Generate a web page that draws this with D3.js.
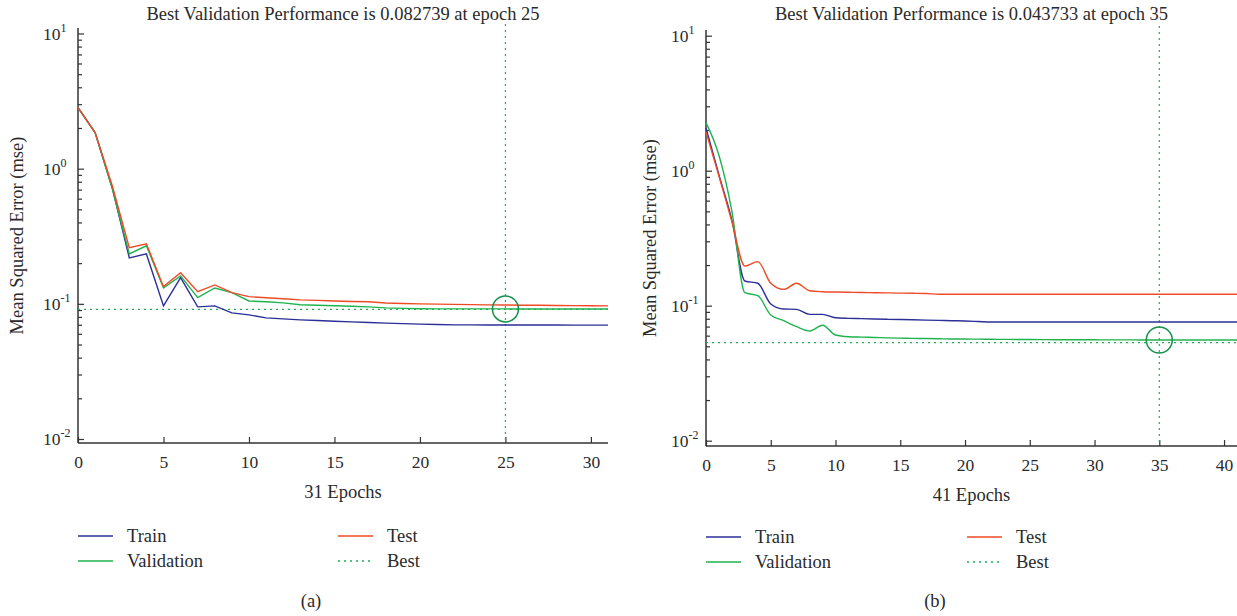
<!DOCTYPE html>
<html>
<head>
<meta charset="utf-8">
<script src="https://cdn.jsdelivr.net/npm/d3@7/dist/d3.min.js"></script>
<style>
  body { margin: 0; background: #fff; }
  svg text { font-family: "Liberation Serif", "DejaVu Serif", serif; fill: #2a2a2a; }
</style>
</head>
<body>
<div id="chart"></div>
<script>
// ---- data ----
// panel (a): 31 epochs
const epochsA = d3.range(0, 32);
const trainA = [2.83, 1.85, 0.72, 0.219, 0.234, 0.0966, 0.156, 0.095, 0.0966, 0.0858, 0.0829, 0.0787,
  0.0774, 0.0761, 0.0752, 0.0744, 0.0736, 0.0728, 0.0720, 0.0714, 0.0708, 0.0703, 0.0699, 0.0699,
  0.0698, 0.0698, 0.0697, 0.0697, 0.0697, 0.0696, 0.0696, 0.0696];
const valA = [2.83, 1.85, 0.72, 0.234, 0.269, 0.131, 0.161, 0.111, 0.131, 0.121, 0.105, 0.1035,
  0.1017, 0.0984, 0.0976, 0.0967, 0.0960, 0.0950, 0.0934, 0.0926, 0.0920, 0.0918, 0.0918, 0.0917,
  0.0917, 0.0917, 0.0916, 0.0916, 0.0916, 0.0916, 0.0916, 0.0915];
const testA = [2.83, 1.85, 0.75, 0.26, 0.278, 0.134, 0.170, 0.123, 0.138, 0.121, 0.113, 0.111,
  0.109, 0.107, 0.106, 0.105, 0.104, 0.1035, 0.1015, 0.1005, 0.1000, 0.0995, 0.0990, 0.0986,
  0.0982, 0.0980, 0.0977, 0.0975, 0.0972, 0.0970, 0.0968, 0.0966];
const bestEpochA = 25;
const bestLineA = 0.091;

// panel (b): 41 epochs
const epochsB = d3.range(0, 42);
const trainB = [2.07, 0.929, 0.431, 0.1524, 0.1466, 0.103, 0.0945, 0.094, 0.0863, 0.0863, 0.0815, 0.0806,
  0.0802, 0.0798, 0.0794, 0.0790, 0.0786, 0.0782, 0.0778, 0.0774, 0.0770, 0.0764, 0.0757, 0.0757,
  0.0757, 0.0757, 0.0757, 0.0757, 0.0757, 0.0757, 0.0757, 0.0757, 0.0757, 0.0757, 0.0757, 0.0757,
  0.0757, 0.0757, 0.0757, 0.0757, 0.0757, 0.0757];
const valB = [2.27, 1.30, 0.50, 0.1248, 0.1186, 0.0853, 0.0774, 0.0699, 0.065, 0.0716, 0.0607, 0.0589,
  0.0585, 0.0582, 0.0578, 0.0575, 0.0573, 0.0571, 0.0569, 0.0567, 0.0566, 0.0565, 0.0564, 0.0563,
  0.0562, 0.0562, 0.0561, 0.0560, 0.0560, 0.0559, 0.0559, 0.0558, 0.0558, 0.0558, 0.0557, 0.0557,
  0.0557, 0.0557, 0.0557, 0.0557, 0.0557, 0.0557];
const testB = [1.94, 0.914, 0.419, 0.197, 0.212, 0.1466, 0.132, 0.1466, 0.129, 0.127, 0.1263, 0.1257,
  0.1252, 0.1248, 0.1244, 0.1240, 0.1236, 0.1230, 0.1215, 0.1215, 0.1215, 0.1215, 0.1215, 0.1215,
  0.1215, 0.1215, 0.1215, 0.1215, 0.1215, 0.1215, 0.1215, 0.1215, 0.1215, 0.1215, 0.1215, 0.1215,
  0.1215, 0.1215, 0.1215, 0.1215, 0.1215, 0.1215];
const bestEpochB = 35;
const bestLineB = 0.0532;

const yTickValues = [0.01, 0.1, 1, 10];
const yTickExps = ["-2", "-1", "0", "1"];
const xTicksA = [0, 5, 10, 15, 20, 25, 30];
const xTicksB = [0, 5, 10, 15, 20, 25, 30, 35, 40];
const legendNames = ["Train", "Validation", "Test", "Best"];

const colors = { train: "#2b2f96", val: "#1fb34f", test: "#f04a25", best: "#1cb05a", circle: "#17924c" };

const width = 1237, height = 616;
const svg = d3.select("#chart").append("svg")
    .attr("width", width)
    .attr("height", height);

function drawPanel(p) {
    const g = svg.append("g");
    const x = d3.scaleLinear().domain(p.xDomain).range([p.left, p.right]);
    const y = d3.scaleLog().domain([0.01, 10]).range([p.y0, p.y1]);

    // minor + major y ticks (inward)
    const minor = [];
    [0.01, 0.1, 1].forEach(d => { for (let k = 2; k <= 9; k++) minor.push(d * k); });
    g.append("g")
        .attr("transform", "translate(" + p.left + ",0)")
        .call(d3.axisLeft(y).tickValues(minor).tickSizeInner(-4).tickSizeOuter(0).tickFormat(""))
        .call(a => a.select(".domain").remove())
        .call(a => a.selectAll("line").attr("stroke", "#333").attr("stroke-width", 1.2));
    g.append("g")
        .attr("transform", "translate(" + p.left + ",0)")
        .call(d3.axisLeft(y).tickValues(yTickValues).tickSizeInner(-6).tickSizeOuter(0).tickFormat(""))
        .call(a => a.select(".domain").remove())
        .call(a => a.selectAll("line").attr("stroke", "#333").attr("stroke-width", 1.2));

    // y tick labels 10^n
    yTickValues.forEach((v, i) => {
        const t = g.append("text")
            .attr("x", p.left - 35)
            .attr("y", y(v) + 6)
            .style("font-size", "17.5px");
        t.append("tspan").text("10");
        t.append("tspan").attr("dy", -8).style("font-size", "12px").text(yTickExps[i]);
    });

    // x axis (ticks point up)
    g.append("g")
        .attr("transform", "translate(0," + p.xAxisY + ")")
        .call(d3.axisBottom(x).tickValues(p.xTicks).tickSizeInner(-6).tickSizeOuter(0).tickPadding(13))
        .call(a => a.select(".domain").remove())
        .call(a => a.selectAll("line").attr("stroke", "#333").attr("stroke-width", 1.2))
        .call(a => a.selectAll("text")
            .style("font-family", "Liberation Serif, serif")
            .style("font-size", "17.5px")
            .attr("fill", "#2a2a2a"));

    // axis lines
    g.append("line").attr("x1", p.left).attr("x2", p.left)
        .attr("y1", p.yTop).attr("y2", p.xAxisY)
        .attr("stroke", "#333").attr("stroke-width", 1.5);
    g.append("line").attr("x1", p.left).attr("x2", p.right)
        .attr("y1", p.xAxisY).attr("y2", p.xAxisY)
        .attr("stroke", "#333").attr("stroke-width", 1.5);

    // best lines
    g.append("line")
        .attr("x1", x(p.bestEpoch)).attr("x2", x(p.bestEpoch))
        .attr("y1", p.yTop - 4).attr("y2", p.xAxisY)
        .attr("stroke", colors.best).attr("stroke-width", 1.2)
        .attr("stroke-dasharray", "2,4");
    g.append("line")
        .attr("x1", p.left).attr("x2", p.right)
        .attr("y1", y(p.bestLine)).attr("y2", y(p.bestLine))
        .attr("stroke", colors.best).attr("stroke-width", 1.2)
        .attr("stroke-dasharray", "2,4");

    const line = d3.line()
        .x((d, i) => x(p.epochs[i]))
        .y(d => y(d))
        .curve(p.curve);

    [[p.train, colors.train], [p.val, colors.val], [p.test, colors.test]].forEach(s => {
        g.append("path")
            .datum(s[0])
            .attr("d", line)
            .attr("fill", "none")
            .attr("stroke", s[1])
            .attr("stroke-width", 1.4);
    });

    // best marker
    g.append("circle")
        .attr("cx", x(p.bestEpoch))
        .attr("cy", y(p.val[p.bestEpoch]))
        .attr("r", 13)
        .attr("fill", "none")
        .attr("stroke", colors.circle)
        .attr("stroke-width", 1.5);

    // texts
    g.append("text")
        .attr("x", (p.left + p.right) / 2).attr("y", 20)
        .attr("text-anchor", "middle")
        .style("font-size", "18.5px")
        .text(p.title);
    g.append("text")
        .attr("transform", "translate(" + p.yLabelX + "," + ((p.yTop + p.xAxisY) / 2) + ") rotate(-90)")
        .attr("text-anchor", "middle")
        .style("font-size", "18.5px")
        .text("Mean Squared Error (mse)");
    g.append("text")
        .attr("x", (p.left + p.right) / 2).attr("y", p.xAxisY + 55)
        .attr("text-anchor", "middle")
        .style("font-size", "18.5px")
        .text(p.xLabel);

    // legend
    const lg = [
        { name: legendNames[0], c: colors.train, dash: null, x: p.left, y: p.legY },
        { name: legendNames[1], c: colors.val, dash: null, x: p.left, y: p.legY + 25 },
        { name: legendNames[2], c: colors.test, dash: null, x: p.legX2, y: p.legY },
        { name: legendNames[3], c: colors.best, dash: "2,4", x: p.legX2, y: p.legY + 25 }
    ];
    lg.forEach(d => {
        g.append("line")
            .attr("x1", d.x).attr("x2", d.x + 35)
            .attr("y1", d.y).attr("y2", d.y)
            .attr("stroke", d.c).attr("stroke-width", 1.4)
            .attr("stroke-dasharray", d.dash);
        g.append("text")
            .attr("x", d.x + 49).attr("y", d.y + 6)
            .style("font-size", "18.5px")
            .text(d.name);
    });

    g.append("text")
        .attr("x", p.tagX).attr("y", 607)
        .attr("text-anchor", "middle")
        .style("font-size", "18.5px")
        .text(p.tag);
}

drawPanel({
    epochs: epochsA, train: trainA, val: valA, test: testA,
    bestEpoch: bestEpochA, bestLine: bestLineA,
    xDomain: [0, 31], xTicks: xTicksA,
    left: 78, right: 608, y0: 439, y1: 33.5, yTop: 28, xAxisY: 443,
    curve: d3.curveLinear,
    title: "Best Validation Performance is 0.082739 at epoch 25",
    xLabel: "31 Epochs", yLabelX: 23,
    legY: 536, legX2: 338, tag: "(a)", tagX: 311
});

drawPanel({
    epochs: epochsB, train: trainB, val: valB, test: testB,
    bestEpoch: bestEpochB, bestLine: bestLineB,
    xDomain: [0, 41], xTicks: xTicksB,
    left: 706, right: 1237, y0: 440.7, y1: 35.7, yTop: 30, xAxisY: 446,
    curve: d3.curveMonotoneX,
    title: "Best Validation Performance is 0.043733 at epoch 35",
    xLabel: "41 Epochs", yLabelX: 656,
    legY: 537, legX2: 967, tag: "(b)", tagX: 935
});
</script>
</body>
</html>
